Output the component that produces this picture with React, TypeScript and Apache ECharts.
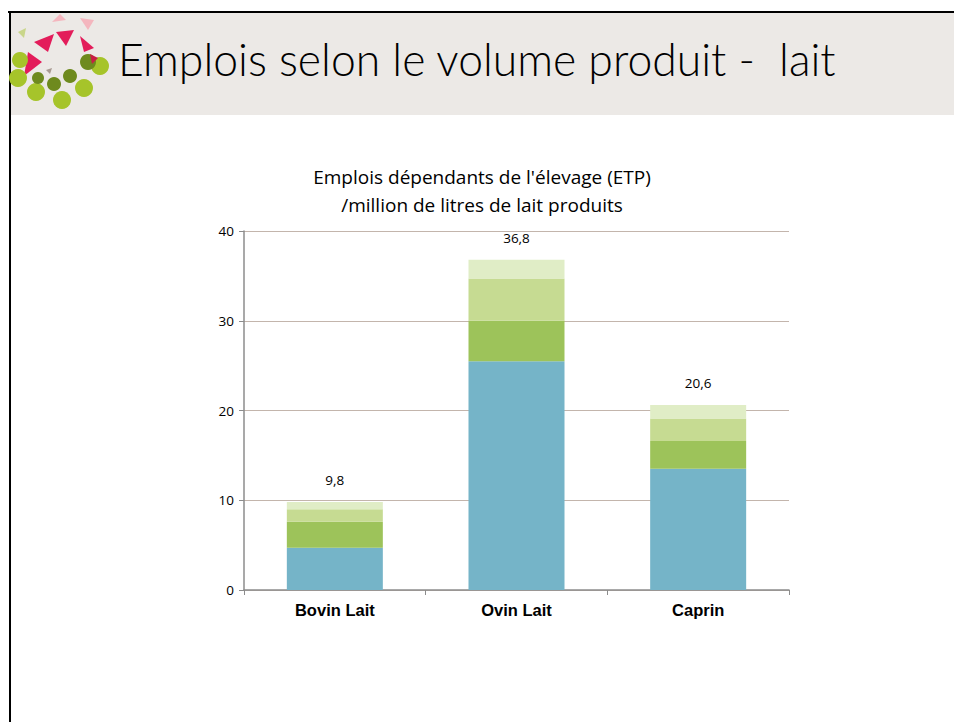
import React, { useEffect, useRef } from "react";
import * as echarts from "echarts";

const categories = ["Bovin Lait", "Ovin Lait", "Caprin"];
const segment1 = [4.7, 25.5, 13.5];
const segment2 = [2.9, 4.5, 3.1];
const segment3 = [1.4, 4.7, 2.5];
const segment4 = [0.8, 2.1, 1.5];
const totals = [9.8, 36.8, 20.6];
const segmentColors = ["#75B4C8", "#9DC35A", "#C6DB92", "#E0EDC6"];
const chartTitleLines = ["Emplois dépendants de l'élevage (ETP)", "/million de litres de lait produits"];

export default function App() {
  const ref = useRef<HTMLDivElement>(null);
  useEffect(() => {
    const chart = echarts.init(ref.current!, null, { renderer: "svg" });
    const segs = [segment1, segment2, segment3, segment4];
    const series: any[] = segs.map((d, i) => ({
      type: "bar",
      stack: "total",
      data: d,
      barWidth: 96,
      itemStyle: { color: segmentColors[i] },
      label:
        i === 3
          ? {
              show: true,
              position: "top",
              distance: 15,
              color: "#000",
              fontFamily: "Open Sans",
              fontSize: 13.5,
              formatter: (p: any) => totals[p.dataIndex].toFixed(1).replace(".", ","),
            }
          : { show: false },
    }));
    chart.setOption({
      animation: false,
      grid: { left: 244, right: 165, top: 231, bottom: 132 },
      xAxis: {
        type: "category",
        data: categories,
        axisLine: { lineStyle: { color: "#8C8C8C", width: 1.5 } },
        axisTick: { show: true, length: 5, lineStyle: { color: "#8C8C8C" } },
        axisLabel: {
          color: "#000",
          fontFamily: "Liberation Sans",
          fontWeight: "bold",
          fontSize: 16.5,
          margin: 11,
        },
      },
      yAxis: {
        type: "value",
        min: 0,
        max: 40,
        interval: 10,
        axisLine: { show: true, lineStyle: { color: "#8C8C8C", width: 1.5 } },
        axisTick: { show: true, length: 5, lineStyle: { color: "#8C8C8C" } },
        axisLabel: { color: "#000", fontFamily: "Open Sans", fontSize: 13.5, margin: 10 },
        splitLine: { lineStyle: { color: "#C3B5AC", width: 1 } },
      },
      graphic: [
        { type: "rect", shape: { x: 10, y: 12, width: 944, height: 103 }, style: { fill: "#ECE9E6" }, z: -10 },
        { type: "line", shape: { x1: 8, y1: 12, x2: 954, y2: 12 }, style: { stroke: "#000", lineWidth: 2 } },
        { type: "line", shape: { x1: 10, y1: 11, x2: 10, y2: 722 }, style: { stroke: "#000", lineWidth: 2 } },
        // logo
        { type: "polygon", shape: { points: [[52, 22], [60, 14], [66, 20]] }, style: { fill: "#F4B6BE" } },
        { type: "polygon", shape: { points: [[80, 18], [94, 20], [88, 30]] }, style: { fill: "#F4B6BE" } },
        { type: "polygon", shape: { points: [[18, 32], [26, 28], [24, 38]] }, style: { fill: "#C9D68A" } },
        { type: "polygon", shape: { points: [[34, 42], [54, 34], [48, 52]] }, style: { fill: "#E31C5A" } },
        { type: "polygon", shape: { points: [[56, 32], [74, 30], [66, 46]] }, style: { fill: "#E31C5A" } },
        { type: "polygon", shape: { points: [[80, 36], [94, 48], [84, 52]] }, style: { fill: "#E31C5A" } },
        { type: "polygon", shape: { points: [[28, 52], [42, 62], [24, 76]] }, style: { fill: "#E31C5A" } },
        { type: "circle", shape: { cx: 20, cy: 60, r: 8 }, style: { fill: "#A6C42A" } },
        { type: "circle", shape: { cx: 18, cy: 78, r: 9 }, style: { fill: "#A6C42A" } },
        { type: "circle", shape: { cx: 36, cy: 92, r: 9 }, style: { fill: "#A6C42A" } },
        { type: "circle", shape: { cx: 62, cy: 100, r: 9 }, style: { fill: "#A6C42A" } },
        { type: "circle", shape: { cx: 84, cy: 88, r: 9 }, style: { fill: "#A6C42A" } },
        { type: "circle", shape: { cx: 100, cy: 66, r: 9 }, style: { fill: "#A6C42A" } },
        { type: "circle", shape: { cx: 88, cy: 62, r: 8 }, style: { fill: "#6E8A1E" } },
        { type: "circle", shape: { cx: 70, cy: 76, r: 7 }, style: { fill: "#6E8A1E" } },
        { type: "circle", shape: { cx: 54, cy: 84, r: 7 }, style: { fill: "#6E8A1E" } },
        { type: "circle", shape: { cx: 38, cy: 78, r: 6 }, style: { fill: "#6E8A1E" } },
        { type: "polygon", shape: { points: [[90, 54], [98, 58], [92, 64]] }, style: { fill: "#C81E45" } },
        { type: "polygon", shape: { points: [[46, 70], [52, 68], [50, 74]] }, style: { fill: "#A89A92" } },
        {
          type: "text",
          left: 118,
          top: 36,
          style: {
            text: "Emplois selon le volume produit -  lait",
            font: "300 44.5px Lato",
            fill: "#000",
          },
        },
        {
          type: "text",
          x: 482,
          y: 177,
          style: {
            text: chartTitleLines[0],
            font: "19px 'Open Sans'",
            fill: "#000",
            align: "center",
            verticalAlign: "middle",
          },
        },
        {
          type: "text",
          x: 482,
          y: 205,
          style: {
            text: chartTitleLines[1],
            font: "19px 'Open Sans'",
            fill: "#000",
            align: "center",
            verticalAlign: "middle",
          },
        },
      ],
      series,
    });
    return () => chart.dispose();
  }, []);
  return (
    <div
      ref={ref}
      style={{ position: "fixed", left: 0, top: 0, width: 954, height: 722, background: "#fff" }}
    />
  );
}
